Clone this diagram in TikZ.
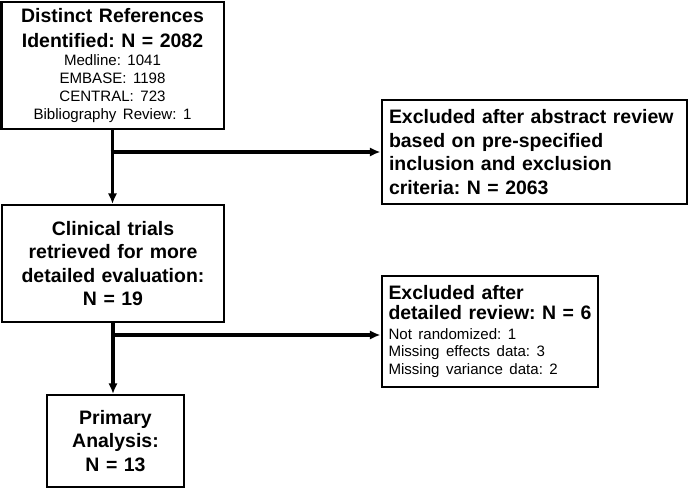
\documentclass[tikz,border=0pt]{standalone}
\usepackage{fontspec}
\setmainfont{Liberation Sans}
\usetikzlibrary{arrows.meta}
\newcommand{\headfont}{\fontsize{14.6}{17.6}\bfseries\selectfont}
\newcommand{\listfont}{\fontsize{11.3}{13.2}\mdseries\selectfont}
\tikzset{%
    >={Latex[length=8pt,width=7pt]}
}

\begin{document}
\frenchspacing
\begin{tikzpicture}[x=0.75pt,y=-0.75pt,
    box/.style={draw, line width=1.5pt, inner sep=0pt, font=\headfont},
    flow/.style={->, line width=2.8pt}]
  \useasboundingbox (0,0) rectangle (690,488);

  \node[box, minimum width=222pt*0.75, minimum height=127pt*0.75, text width=215pt*0.75, align=center] (found) at (112.5,65.5)
    {\baselineskip=18.8pt Distinct References\par Identified: N = 2082\par
     \listfont\baselineskip=13.6pt Medline: 1041\par EMBASE: 1198\par CENTRAL: 723\par Bibliography Review: 1\par};
  \node[box, minimum width=305pt*0.75, minimum height=104pt*0.75, text width=290pt*0.75, align=left] (absexcl) at (534,152)
    {Excluded after abstract review\par based on pre-specified\par inclusion and exclusion\par criteria: N = 2063\par};
  \node[box, minimum width=222pt*0.75, minimum height=117pt*0.75, text width=215pt*0.75, align=center] (trials) at (113,263.5)
    {Clinical trials\par retrieved for more\par detailed evaluation:\par N = 19\par};
  \node[box, minimum width=216pt*0.75, minimum height=111pt*0.75, text width=202pt*0.75, align=left] (detexcl) at (489.5,331.5)
    {\baselineskip=15pt Excluded after\par \mbox{detailed review: N = 6}\par\vskip2pt
     \listfont\baselineskip=12.9pt Not randomized: 1\par Missing effects data: 3\par Missing variance data: 2\par};
  \node[box, minimum width=137pt*0.75, minimum height=92pt*0.75, text width=130pt*0.75, align=center] (primary) at (115.5,441)
    {Primary\par Analysis:\par N = 13\par};

  \coordinate (split1) at (found.south |- absexcl.west);
  \coordinate (split2) at (113,335);

  \draw[flow] (found.south) -- (found.south |- trials.north);
  \draw[flow] ([xshift=-1.4pt]split1) -- (absexcl.west);
  \draw[flow] (trials.south -| split2) -- (split2 |- primary.north);
  \draw[flow] ([xshift=-1.4pt]split2) -- (split2 -| detexcl.west);
\end{tikzpicture}
\end{document}
